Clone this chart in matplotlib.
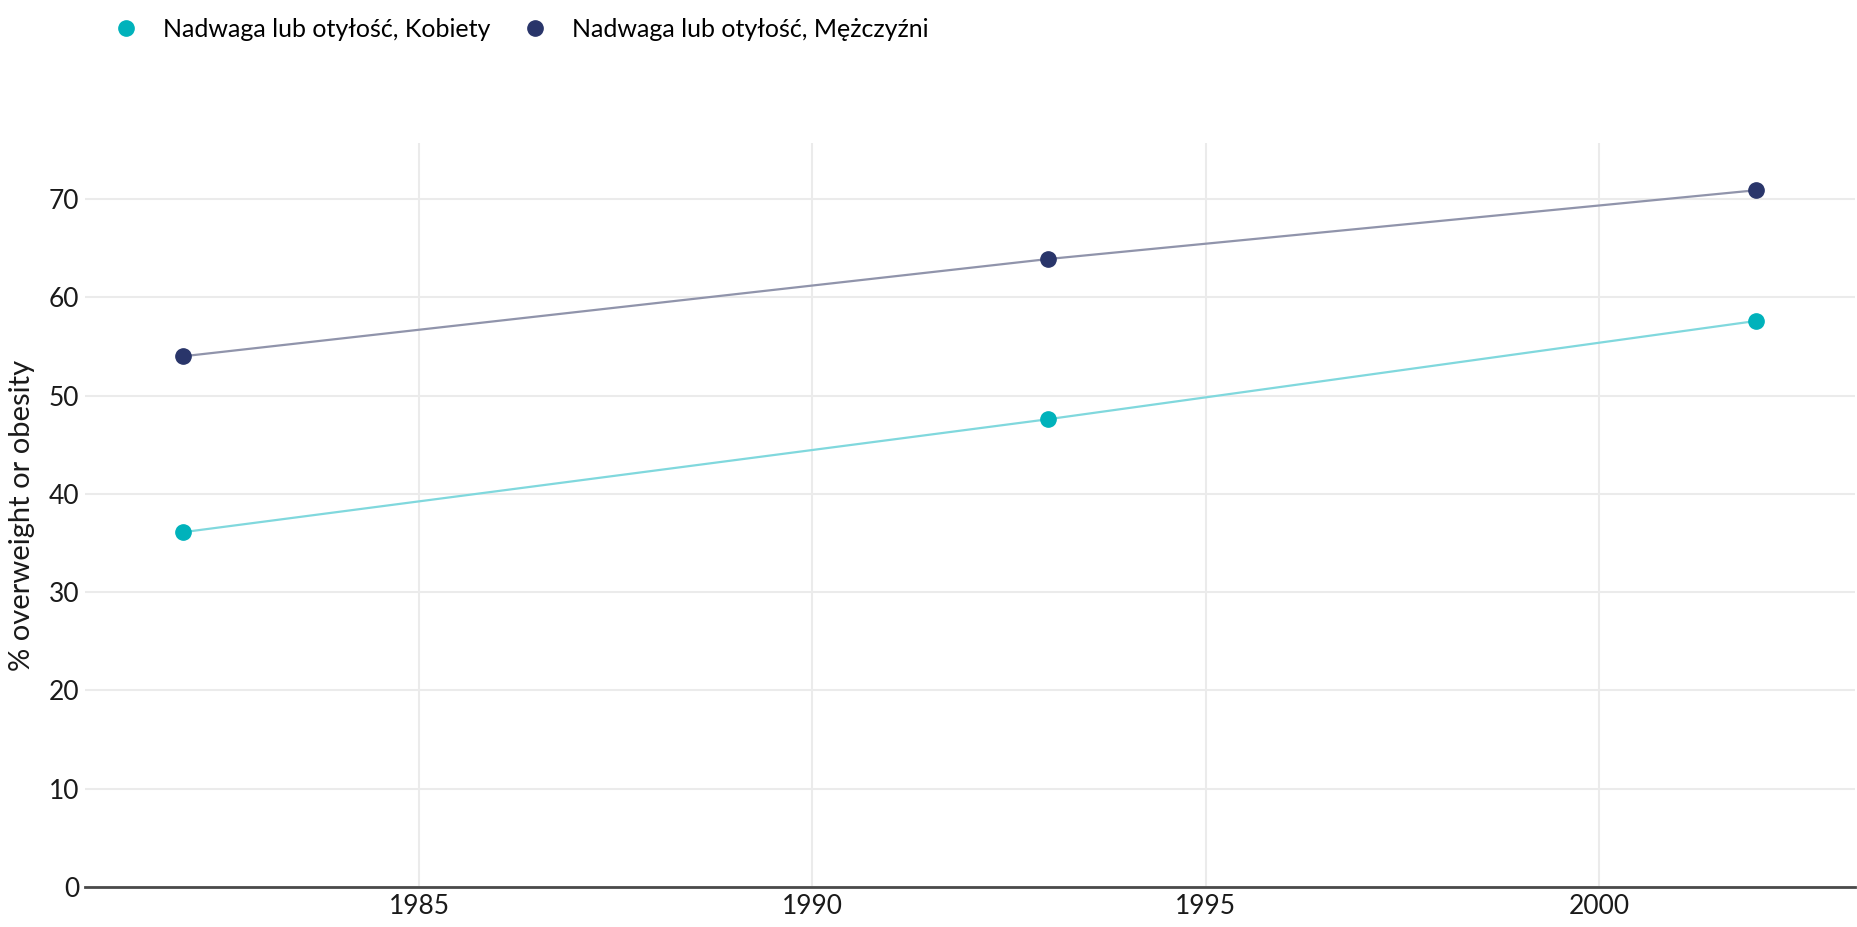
import matplotlib
matplotlib.use("Agg")
import matplotlib.pyplot as plt
from matplotlib.lines import Line2D

plt.rcParams["font.family"] = ["Lato", "DejaVu Sans"]

YEARS = [1982, 1993, 2002]
WOMEN = [36.1, 47.6, 57.6]
MEN = [54.0, 63.9, 70.9]

LABEL_WOMEN = "Nadwaga lub otyłość, Kobiety"
LABEL_MEN = "Nadwaga lub otyłość, Mężczyźni"
Y_LABEL = "% overweight or obesity"

X_TICKS = [1985, 1990, 1995, 2000]
Y_TICKS = [0, 10, 20, 30, 40, 50, 60, 70]

TEAL = "#00b2bb"
TEAL_LINE = "#80d8dd"
NAVY = "#29356a"
NAVY_LINE = "#9094ab"
GRID = "#ebebeb"

fig = plt.figure(figsize=(18.57, 9.27), dpi=100)
ax = fig.add_axes([0.0458, 0.0432, 0.953, 0.8025])

ax.plot(YEARS, WOMEN, color=TEAL_LINE, lw=1.6, zorder=3)
ax.plot(YEARS, WOMEN, "o", color=TEAL, ms=11, zorder=4)
ax.plot(YEARS, MEN, color=NAVY_LINE, lw=1.6, zorder=3)
ax.plot(YEARS, MEN, "o", color=NAVY, ms=11, zorder=4)

ax.set_xlim(1980.755, 2003.25)
ax.set_ylim(0, 75.7)
ax.set_xticks(X_TICKS)
ax.set_yticks(Y_TICKS)

ax.grid(True, color=GRID, lw=1.5, zorder=0)
ax.set_axisbelow(True)
for side in ["top", "right", "left"]:
    ax.spines[side].set_visible(False)
ax.spines["bottom"].set_color("#4a4a4a")
ax.spines["bottom"].set_linewidth(2)
ax.spines["bottom"].set_zorder(5)

ax.tick_params(axis="both", length=0, labelsize=19, colors="#1a1a1a")
ax.tick_params(axis="x", pad=5)
ax.tick_params(axis="y", pad=4)

ax.set_ylabel(Y_LABEL, fontsize=21, color="#1a1a1a", labelpad=10)

handles = [
    Line2D([], [], marker="o", ls="", color=TEAL, ms=11),
    Line2D([], [], marker="o", ls="", color=NAVY, ms=11),
]
fig.legend(handles, [LABEL_WOMEN, LABEL_MEN], loc="upper left",
           bbox_to_anchor=(0.049, 1.005), ncol=2, frameon=False,
           fontsize=18, handletextpad=1.0, columnspacing=1.25,
           handlelength=1.0)

fig.savefig("out.png", dpi=100)
